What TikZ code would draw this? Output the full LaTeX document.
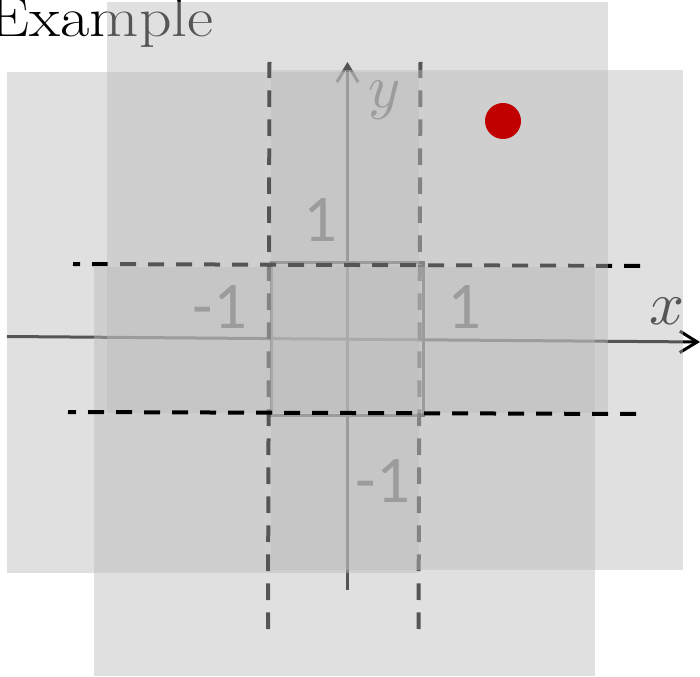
\documentclass[tikz,border=0pt]{standalone}
\usepackage{fontspec}
\newfontfamily\tickfont{Carlito}
\usetikzlibrary{arrows.meta}
\definecolor{dotred}{HTML}{C00000}
\definecolor{sheet}{HTML}{BBBBBB}
\begin{document}
\begin{tikzpicture}[x=0.75pt,y=-0.75pt,
    sheet/.style={fill=sheet,fill opacity=0.455},
    hcut/.style={line width=3pt,dash pattern=on 12pt off 9pt},
    vcut/.style={line width=3pt,dash pattern=on 12.5pt off 9.25pt},
    axis/.style={line width=2.25pt,-{Straight Barb[length=13pt,width=16pt]}},
    tick/.style={inner sep=0pt,font=\tickfont\fontsize{50}{50}\selectfont},
    var/.style={inner sep=0pt}]
    \useasboundingbox (0,0) rectangle (700,677);
    % Всё, что лежит под листами.
    \node[anchor=base east,inner sep=0pt] (title) at (214,37)
        {\scalebox{1.14}[1]{\fontsize{42}{42}\selectfont Example}};
    \coordinate (xl) at (7,336.5);
    \coordinate (xr) at (700,342);
    \coordinate (yb) at (347.5,590);
    \coordinate (yt) at (347.5,62);
    \draw[axis] (xl) -- (xr);
    \draw[axis] (yb) -- (yt);
    \draw[line width=2.25pt] (271,263) rectangle (423,415);
    \node[var] (xlab) at (667,311) {\scalebox{4.6}{$x$}};
    \node[var] (ylab) at (385,100) {\scalebox{4.6}{$y$}};
    \node[tick] (onetop) at (320,220) {1};
    \node[tick] (oneright) at (464,307) {1};
    \node[tick] (mleft) at (220,307) {-1};
    \node[tick] (mbottom) at (383,481) {-1};
    % Листы и разрезы, порядок важен.
    \fill[sheet] (7,72) rectangle (419,573);
    \coordinate (vlt) at (269.5,62);
    \coordinate (vlb) at (268,629);
    \coordinate (vrt) at (420.5,62);
    \coordinate (vrb) at (418.5,629);
    \draw[vcut] (vlb) -- (vlt);
    \draw[vcut] (vrb) -- (vrt);
    \fill[sheet] (271,70) rectangle (683,570);
    \coordinate (htl) at (73,264);
    \coordinate (htr) at (640,266);
    \draw[hcut] (htr) -- (htl);
    \fill[sheet] (94,267) rectangle (595,676);
    \fill[sheet] (107,2) rectangle (608,413);
    \coordinate (hbl) at (68,412);
    \coordinate (hbr) at (636,414);
    \draw[hcut] (hbr) -- (hbl);
    \node[circle,fill=dotred,minimum size=27pt,inner sep=0pt] (dot) at (503,121) {};
\end{tikzpicture}
\end{document}
